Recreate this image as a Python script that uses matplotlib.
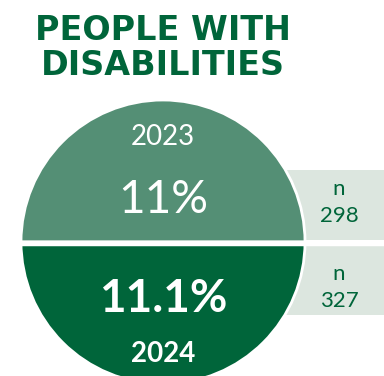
import matplotlib.pyplot as plt
from matplotlib.patches import Wedge, Rectangle

# data
title_lines = ['PEOPLE WITH', 'DISABILITIES']
years = ['2023', '2024']
shares = ['11%', '11.1%']
sample_n = [298, 327]

# colours
dark = '#00653a'
light = '#548f75'
box_col = '#dce6df'

fig = plt.figure(figsize=(3.84, 3.76), dpi=100)
ax = fig.add_axes([0, 0, 1, 1])
ax.set_xlim(0, 384)
ax.set_ylim(376, 0)
ax.set_aspect('equal')
ax.axis('off')

cx, cy, r = 163, 242, 142

# boxes behind the circle
ax.add_patch(Rectangle((250, 170), 140, 70, color=box_col, lw=0, zorder=1))
ax.add_patch(Rectangle((250, 245), 140, 70, color=box_col, lw=0, zorder=1))

# half circles (y axis inverted, so angles flip)
ax.add_patch(Wedge((cx, cy), r, 180, 360, facecolor=light, edgecolor='white', lw=2, zorder=2))
ax.add_patch(Wedge((cx, cy), r, 0, 180, facecolor=dark, edgecolor='white', lw=2, zorder=2))
ax.plot([cx - r - 2, 384], [cy + 1.5, cy + 1.5], color='white', lw=2.5, zorder=3)

fam = ['Lato', 'DejaVu Sans']
# title
ax.text(cx, 40, title_lines[0], ha='center', va='baseline', fontsize=24, fontweight='bold',
        color=dark, family='DejaVu Sans')
ax.text(cx, 75, title_lines[1], ha='center', va='baseline', fontsize=24, fontweight='bold',
        color=dark, family='DejaVu Sans')

ax.text(cx, 145, years[0], ha='center', va='baseline', fontsize=20, color='white', family=fam, zorder=4)
ax.text(cx, 213, shares[0], ha='center', va='baseline', fontsize=33, color='white', family=fam, zorder=4)
ax.text(cx, 312, shares[1], ha='center', va='baseline', fontsize=33, fontweight='bold', color='white', family=fam, zorder=4)
ax.text(cx, 362, years[1], ha='center', va='baseline', fontsize=20, fontweight='bold', color='white', family=fam, zorder=4)

# n labels
for yy, n in zip([195, 280], sample_n):
    ax.text(339, yy, 'n', ha='center', va='baseline', fontsize=16, color=dark, family=fam, zorder=4)
    ax.text(339, yy + 27, str(n), ha='center', va='baseline', fontsize=16, color=dark, family=fam, zorder=4)

fig.savefig('out.png', dpi=100)
